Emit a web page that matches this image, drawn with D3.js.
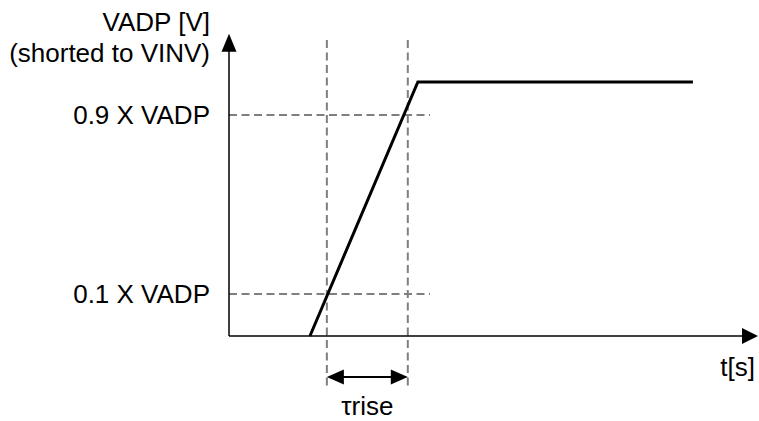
<!DOCTYPE html>
<html>
<head>
<meta charset="utf-8">
<script src="https://cdn.jsdelivr.net/npm/d3@7/dist/d3.min.js"></script>
<style>
  html, body { margin: 0; padding: 0; background: #fff; }
  svg { display: block; }
  text { font-family: "Liberation Sans", Arial, sans-serif; fill: #000; }
</style>
</head>
<body>
<svg id="chart" width="759" height="421"></svg>
<script>
// ---- data (schematic units: time 0..10, voltage relative to VADP) ----
const signalTime  = [1.53, 3.57, 8.77];
const signalValue = [0, 1, 1];
const levelLabels = ["0.1 X VADP", "0.9 X VADP"];
const levelValues = [0.165, 0.870];
const markerTimes = [1.85, 3.38];          // 10% and 90% crossing guides
const riseLabel   = "\u03C4rise";
const yAxisTitle  = ["VADP [V]", "(shorted to VINV)"];
const xAxisTitle  = "t[s]";
const tMax = 10, vMax = 1.19;
const guideTop = 1.165, guideBottom = -0.213, guideRight = 3.8, riseArrowV = -0.161;

// ---- scales ----
const x = d3.scaleLinear().domain([0, tMax]).range([229, 758]);
const y = d3.scaleLinear().domain([0, 1]).range([336, 82]);

const svg = d3.select("#chart");

// dashed guides
const dash = "8,4.5";
svg.selectAll("line.hguide").data(levelValues).join("line")
  .attr("class", "hguide")
  .attr("x1", x(0)).attr("x2", x(guideRight))
  .attr("y1", d => y(d)).attr("y2", d => y(d))
  .attr("stroke", "#7f7f7f").attr("stroke-width", 2).attr("stroke-dasharray", dash);

svg.selectAll("line.vguide").data(markerTimes).join("line")
  .attr("class", "vguide")
  .attr("x1", d => x(d)).attr("x2", d => x(d))
  .attr("y1", y(guideTop)).attr("y2", y(guideBottom))
  .attr("stroke", "#7f7f7f").attr("stroke-width", 2).attr("stroke-dasharray", dash);

// axes
svg.append("line")
  .attr("x1", x(0)).attr("x2", x(0)).attr("y1", y(0)).attr("y2", y(vMax) + 10)
  .attr("stroke", "#000").attr("stroke-width", 1.5);
svg.append("line")
  .attr("x1", x(0)).attr("x2", x(tMax) - 10).attr("y1", y(0)).attr("y2", y(0))
  .attr("stroke", "#000").attr("stroke-width", 1.5);

// arrow heads
function head(tipX, tipY, dx, dy, len, half) {
  const bx = tipX - dx * len, by = tipY - dy * len;
  const px = -dy, py = dx;
  return `M${tipX},${tipY}L${bx + px * half},${by + py * half}L${bx - px * half},${by - py * half}Z`;
}
svg.append("path").attr("d", head(x(0), y(vMax), 0, -1, 18, 7.5)).attr("fill", "#000");
svg.append("path").attr("d", head(x(tMax), y(0), 1, 0, 16, 8)).attr("fill", "#000");

// signal
const pts = signalTime.map((t, i) => [x(t), y(signalValue[i])]);
svg.append("path")
  .attr("d", d3.line()(pts))
  .attr("fill", "none").attr("stroke", "#000").attr("stroke-width", 3)
  .attr("stroke-linejoin", "miter");

// rise-time double arrow
const ay = y(riseArrowV);
const ax1 = x(markerTimes[0]), ax2 = x(markerTimes[1]);
svg.append("line")
  .attr("x1", ax1 + 10).attr("x2", ax2 - 10).attr("y1", ay).attr("y2", ay)
  .attr("stroke", "#000").attr("stroke-width", 2);
svg.append("path").attr("d", head(ax1, ay, -1, 0, 17, 7.5)).attr("fill", "#000");
svg.append("path").attr("d", head(ax2, ay, 1, 0, 17, 7.5)).attr("fill", "#000");

// texts
const fs = "26px";
svg.selectAll("text.level").data(levelValues).join("text")
  .attr("class", "level")
  .attr("x", x(0) - 19).attr("y", d => y(d) + 9)
  .attr("text-anchor", "end").style("font-size", fs)
  .text((d, i) => levelLabels[i]);

svg.selectAll("text.ytitle").data(yAxisTitle).join("text")
  .attr("class", "ytitle")
  .attr("x", x(0) - 19).attr("y", (d, i) => 31 + i * 31)
  .attr("text-anchor", "end").style("font-size", fs)
  .text(d => d);

svg.append("text")
  .attr("x", x(tMax) - 3).attr("y", y(0) + 40)
  .attr("text-anchor", "end").style("font-size", fs)
  .text(xAxisTitle);

svg.append("text")
  .attr("x", (ax1 + ax2) / 2).attr("y", 415)
  .attr("text-anchor", "middle").style("font-size", fs)
  .text(riseLabel);
</script>
</body>
</html>
